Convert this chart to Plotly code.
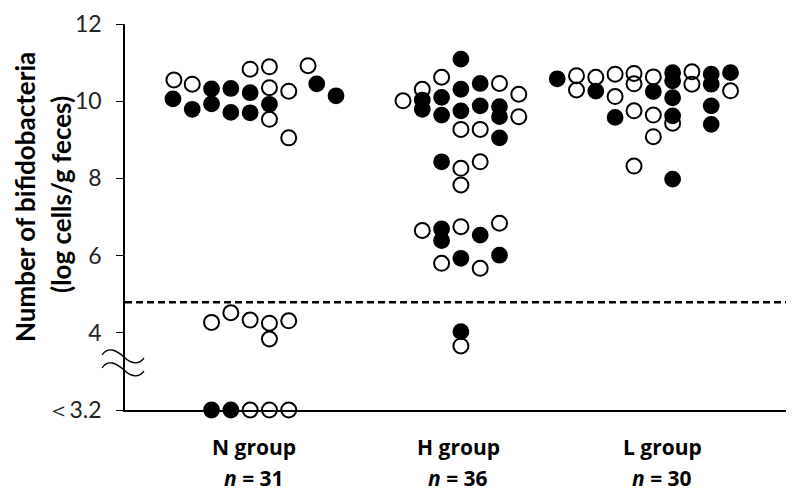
import plotly.graph_objects as go

# ---------------- data ----------------
LOD = 2.0  # plotting position for values below detection limit (<3.2)
groups = ["N group", "H group", "L group"]
group_n = [31, 36, 30]
group_pos = [1, 2, 3]

# y values (log cells/g feces) and horizontal swarm offsets (in marker-column units)
n_open_y = [10.55, 10.44, 10.83, 10.89, 10.35, 10.26, 10.92, 9.53, 9.05,
            4.27, 4.52, 4.33, 4.25, 4.31, 3.84, LOD, LOD, LOD]
n_open_dx = [-4.15, -3.2, -0.2, 0.8, 0.8, 1.8, 2.8, 0.8, 1.8,
             -2.2, -1.2, -0.2, 0.8, 1.8, 0.8, -0.2, 0.8, 1.8]
n_fill_y = [10.06, 9.79, 10.32, 9.93, 10.33, 9.71, 10.22, 9.70, 9.92, 10.45, 10.14, LOD, LOD]
n_fill_dx = [-4.2, -3.2, -2.2, -2.2, -1.2, -1.2, -0.2, -0.2, 0.8, 3.25, 4.25, -2.2, -1.2]

h_open_y = [10.62, 10.31, 10.01, 10.46, 10.18, 9.60, 9.27, 9.27, 8.26, 8.43, 7.83,
            6.65, 6.75, 6.84, 5.80, 5.67, 3.66]
h_open_dx = [-0.85, -1.85, -2.85, 2.15, 3.15, 3.15, 0.15, 1.15, 0.15, 1.15, 0.15,
             -1.85, 0.15, 2.15, -0.85, 1.15, 0.15]
h_fill_y = [11.09, 10.03, 9.79, 10.10, 9.64, 10.31, 9.75, 10.46, 9.88, 9.86, 9.60, 9.05,
            8.43, 6.69, 6.39, 6.53, 5.93, 6.01, 4.03]
h_fill_dx = [0.15, -1.85, -1.85, -0.85, -0.85, 0.15, 0.15, 1.15, 1.15, 2.15, 2.15, 2.15,
             -0.85, -0.85, -0.85, 1.15, 0.15, 2.15, 0.15]

l_open_y = [10.66, 10.29, 10.62, 10.70, 10.12, 10.72, 10.45, 9.75, 8.32, 10.63, 9.64, 9.08,
            9.43, 10.76, 10.44, 10.27]
l_open_dx = [-4.43, -4.43, -3.43, -2.43, -2.43, -1.45, -1.45, -1.45, -1.45, -0.45, -0.45, -0.45,
             0.55, 1.55, 1.55, 3.55]
l_fill_y = [10.58, 10.26, 9.58, 10.25, 10.74, 10.53, 10.09, 9.62, 7.98, 10.70, 10.44, 9.88,
            9.40, 10.74]
l_fill_dx = [-5.43, -3.43, -2.43, -0.45, 0.55, 0.55, 0.55, 0.55, 0.55, 2.55, 2.55, 2.55,
             2.55, 3.55]

threshold = 4.79
y_tickvals = [LOD, 4, 6, 8, 10, 12]
y_ticktext = ["＜3.2", "4", "6", "8", "10", "12"]

# ---------------- build ----------------
COL = 19.3 / 204.0  # one marker column in group units

def xs(pos, dxs):
    return [pos + d * COL for d in dxs]

open_x = xs(group_pos[0], n_open_dx) + xs(group_pos[1], h_open_dx) + xs(group_pos[2], l_open_dx)
open_y = n_open_y + h_open_y + l_open_y
fill_x = xs(group_pos[0], n_fill_dx) + xs(group_pos[1], h_fill_dx) + xs(group_pos[2], l_fill_dx)
fill_y = n_fill_y + h_fill_y + l_fill_y

OFF = 8  # page body margin
W, H = 794 - OFF, 491 - OFF
L, R, T, B = 125 - OFF, 0, 24 - OFF, 81
PW, PH = W - L - R, H - T - B

fig = go.Figure()
fig.add_trace(go.Scatter(
    x=open_x, y=open_y, mode="markers", cliponaxis=False, showlegend=False,
    marker=dict(symbol="circle-open", size=15, color="black", line=dict(width=2, color="black"))))
fig.add_trace(go.Scatter(
    x=fill_x, y=fill_y, mode="markers", cliponaxis=False, showlegend=False,
    marker=dict(symbol="circle", size=15, color="black", line=dict(width=1.8, color="black"))))

def px2paper(px, py):
    # px, py in screen pixels
    return (px - OFF - L) / PW, (H - B - (py - OFF)) / PH

def wave(dy):
    pts = [(102, 355), (108, 346), (116, 350), (124, 357), (131, 364), (139, 365), (144, 358)]
    p = [px2paper(x, y + dy) for x, y in pts]
    s = "M %f,%f C %f,%f %f,%f %f,%f C %f,%f %f,%f %f,%f" % (
        p[0][0], p[0][1], p[1][0], p[1][1], p[2][0], p[2][1], p[3][0], p[3][1],
        p[4][0], p[4][1], p[5][0], p[5][1], p[6][0], p[6][1])
    return s

for dy in (0, 13):
    fig.add_shape(type="path", path=wave(dy), xref="paper", yref="paper",
                  line=dict(color="black", width=1.3))

fig.add_shape(type="line", xref="paper", yref="y", x0=0, x1=1, y0=threshold, y1=threshold,
              line=dict(color="black", width=2.5, dash="7px,4px"))

FONT = "Lato, 'Open Sans', sans-serif"
LBL = "'Open Sans', sans-serif"
for g, n, pos in zip(groups, group_n, group_pos):
    fig.add_annotation(x=pos, y=px2paper(0, 447)[1], xref="x", yref="paper", text="<b>%s</b>" % g,
                       showarrow=False, xanchor="center", yanchor="middle",
                       font=dict(size=21, color="black", family=LBL))
    fig.add_annotation(x=pos, y=px2paper(0, 478)[1], xref="x", yref="paper",
                       text="<b><i>n</i> = %d</b>" % n, xanchor="center", yanchor="middle",
                       showarrow=False, font=dict(size=21, color="black", family=LBL))

fig.add_annotation(x=px2paper(25, 0)[0], y=px2paper(0, 197)[1], xref="paper", yref="paper",
                   text="<b>Number of bifidobacteria</b>", textangle=-90, showarrow=False,
                   xanchor="center", yanchor="middle",
                   font=dict(size=26, color="black", family=FONT))
fig.add_annotation(x=px2paper(61, 0)[0], y=px2paper(0, 195)[1], xref="paper", yref="paper",
                   text="<b>(log cells/g feces)</b>", textangle=-90, showarrow=False,
                   xanchor="center", yanchor="middle",
                   font=dict(size=26, color="black", family=FONT))

fig.update_layout(
    width=W, height=H, margin=dict(l=L, r=R, t=T, b=B),
    plot_bgcolor="white", paper_bgcolor="white",
    font=dict(family=FONT, color="black"),
    xaxis=dict(range=[1 + (125 - 254) / 204, 1 + (794 - 254) / 204], showgrid=False,
               zeroline=False, showticklabels=False, ticks="", showline=True,
               linecolor="black", linewidth=1.5),
    yaxis=dict(range=[2, 12], showgrid=False, zeroline=False, showline=True,
               linecolor="black", linewidth=1.5, ticks="outside", ticklen=7,
               tickcolor="black", tickwidth=1.3, tickvals=y_tickvals, ticktext=y_ticktext,
               tickfont=dict(size=23, color="#222222", family=FONT), ticklabelstandoff=10),
)

fig.write_html("out.html")
